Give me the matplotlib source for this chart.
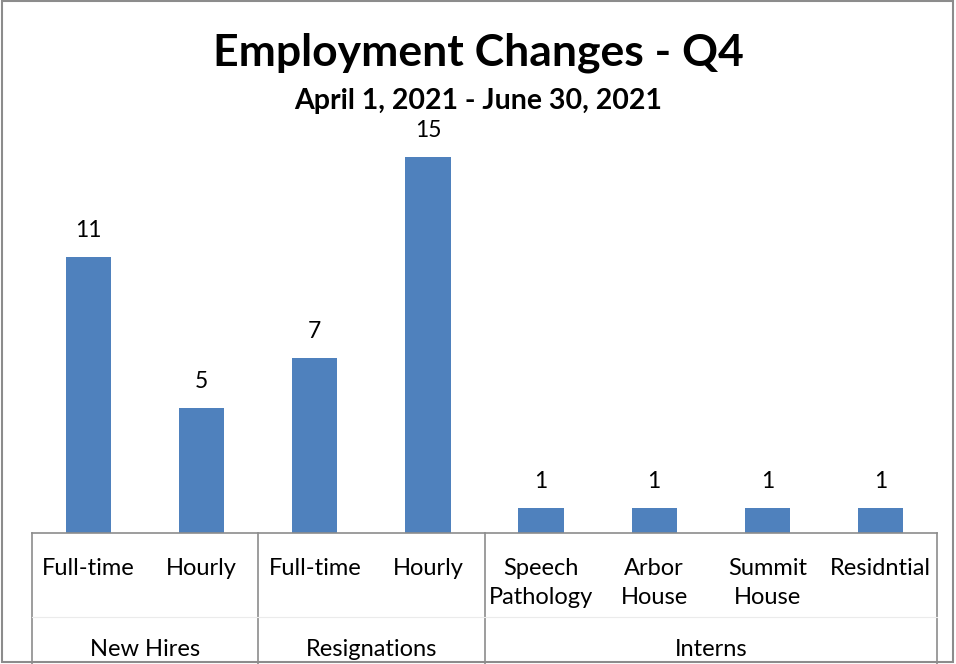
#!/usr/bin/env python3
"""bar chart of employment changes with grouped category axis"""
import matplotlib
matplotlib.use("Agg")
import matplotlib.pyplot as plt
import matplotlib.transforms as mtransforms
from matplotlib.patches import Rectangle

labels = ["Full-time", "Hourly", "Full-time", "Hourly",
          "Speech\nPathology", "Arbor\nHouse", "Summit\nHouse", "Residntial"]
values = [11, 5, 7, 15, 1, 1, 1, 1]
groups = ["New Hires", "Resignations", "Interns"]
group_sizes = [2, 2, 4]

plt.rcParams['font.family'] = ['Lato', 'DejaVu Sans']
blue = "#4F81BD"
gray = "#8C8C8C"

fig = plt.figure(figsize=(9.56, 6.64), dpi=100)
ax = fig.add_axes([32 / 956, 1 - 533 / 664, 905 / 956, 401 / 664])

x = list(range(len(values)))
bars = ax.bar(x, values, width=0.4, color=blue)
for b, v in zip(bars, values):
    ax.annotate(str(v), (b.get_x() + b.get_width() / 2, v),
                xytext=(0, 19), textcoords="offset points",
                ha="center", va="center", fontsize=16.5)

ax.set_xlim(-0.5, len(values) - 0.5)
ax.set_ylim(0, 16)
ax.set_xticks([])
ax.set_yticks([])
for s in ["top", "right", "left"]:
    ax.spines[s].set_visible(False)
ax.spines["bottom"].set_color(gray)
ax.spines["bottom"].set_linewidth(1.2)

trans = mtransforms.blended_transform_factory(ax.transData, ax.transAxes)
for i, lab in enumerate(labels):
    ax.text(i, -0.062, lab, transform=trans, ha="center", va="top",
            fontsize=17, linespacing=1.45)

# group separators and group labels
start = -0.5
edges = [start]
for name, n in zip(groups, group_sizes):
    mid = start + n / 2
    ax.text(mid, -0.264, name, transform=trans, ha="center", va="top",
            fontsize=17)
    start += n
    edges.append(start)
for e in edges:
    ax.plot([e, e], [0, -0.4], transform=trans, color=gray,
            lw=1.2, clip_on=False)
ax.plot([-0.5, len(values) - 0.5], [-0.209, -0.209], transform=trans,
        color="#EBEBEB", lw=0.8, clip_on=False)

fig.text(0.5, 1 - 53 / 664, "Employment Changes - Q4", ha="center",
         va="center", fontsize=32, fontweight="bold")
fig.text(0.5, 1 - 101 / 664, "April 1, 2021 - June 30, 2021", ha="center",
         va="center", fontsize=20.5, fontweight="bold")

fig.patches.append(Rectangle((0.002, 0.003), 0.995, 0.995,
                             transform=fig.transFigure, fill=False,
                             edgecolor=gray, lw=1.5))

fig.savefig("out.png", dpi=100)
